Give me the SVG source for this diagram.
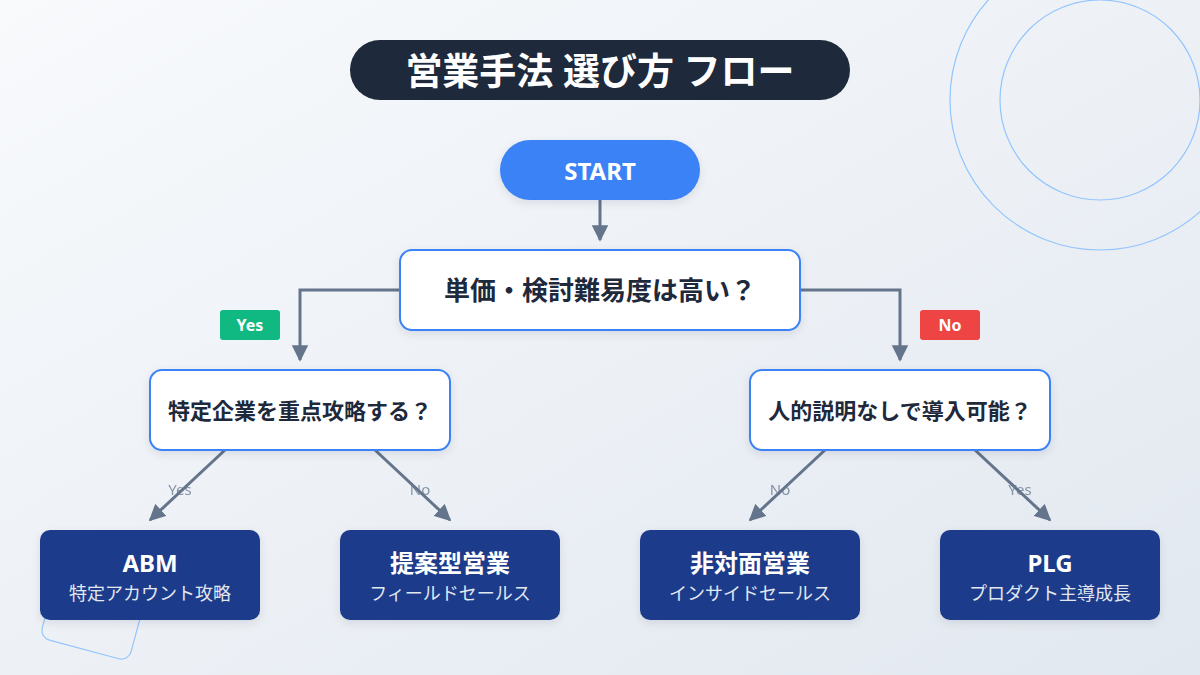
<svg xmlns="http://www.w3.org/2000/svg" width="1200" height="675" viewBox="0 0 1200 675">
<defs>
<linearGradient id="bg" x1="0" y1="0" x2="1" y2="1">
<stop offset="0" stop-color="#f8fafc"/>
<stop offset="1" stop-color="#e2e8f0"/>
</linearGradient>
<marker id="arr" viewBox="0 0 10 10" refX="9" refY="5" markerWidth="5.5" markerHeight="5.5" orient="auto" markerUnits="strokeWidth">
<path d="M0,0 L10,5 L0,10 Z" fill="#64748b"/>
</marker>
<filter id="sh" x="-20%" y="-20%" width="140%" height="150%">
<feDropShadow dx="0" dy="3" stdDeviation="4" flood-color="#0f172a" flood-opacity="0.10"/>
</filter>
</defs>
<style>
text{font-family:"Noto Sans","Noto Sans CJK JP",sans-serif;text-anchor:middle;dominant-baseline:central}
.dec{fill:#ffffff;stroke:#3b82f6;stroke-width:2;filter:url(#sh)}
.dect{fill:#1e293b;font-weight:700}
.leaf{fill:#1e3a8a;filter:url(#sh)}
.lt{fill:#ffffff;font-weight:700;font-size:24px}
.ls{fill:#e2e8f0;font-size:18px}
.conn{fill:none;stroke:#64748b;stroke-width:3;marker-end:url(#arr)}
.el{fill:#64748b;font-size:15px;opacity:0.75}
.deco{fill:none;stroke:#93c5fd;stroke-width:1.2}
</style>
<rect width="1200" height="675" fill="url(#bg)"/>
<g id="decoration">
<circle class="deco" cx="1100" cy="100" r="100"/>
<circle class="deco" cx="1100" cy="100" r="150"/>
<rect class="deco" x="50" y="559" width="92" height="92" rx="10" transform="rotate(15 96 605)"/>
</g>
<g id="title">
<rect x="350" y="40" width="500" height="60" rx="30" fill="#1e293b"/>
<text x="600" y="70" fill="#ffffff" font-size="37" font-weight="700">営業手法 選び方 フロー</text>
</g>
<g id="connectors">
<line class="conn" x1="600" y1="200" x2="600" y2="240"/>
<polyline class="conn" points="400,290 300,290 300,360"/>
<polyline class="conn" points="800,290 900,290 900,360"/>
<line class="conn" x1="225" y1="450" x2="150" y2="520"/>
<line class="conn" x1="375" y1="450" x2="450" y2="520"/>
<line class="conn" x1="825" y1="450" x2="750" y2="520"/>
<line class="conn" x1="975" y1="450" x2="1050" y2="520"/>
<g id="badge-yes">
<rect x="220" y="310" width="60" height="30" rx="3" fill="#10b981"/>
<text x="250" y="325" fill="#ffffff" font-size="16" font-weight="700">Yes</text>
</g>
<g id="badge-no">
<rect x="920" y="310" width="60" height="30" rx="3" fill="#ef4444"/>
<text x="950" y="325" fill="#ffffff" font-size="16" font-weight="700">No</text>
</g>
<text class="el" x="180" y="489">Yes</text>
<text class="el" x="420" y="489">No</text>
<text class="el" x="780" y="489">No</text>
<text class="el" x="1020" y="489">Yes</text>
</g>
<g id="start">
<rect x="500" y="140" width="200" height="60" rx="30" fill="#3b82f6" filter="url(#sh)"/>
<text x="600" y="170" fill="#ffffff" font-size="24" font-weight="700">START</text>
</g>
<g id="q1">
<rect class="dec" x="400" y="250" width="400" height="80" rx="12"/>
<text class="dect" x="600" y="290" font-size="26">単価・検討難易度は高い？</text>
</g>
<g id="q2">
<rect class="dec" x="150" y="370" width="300" height="80" rx="12"/>
<text class="dect" x="300" y="410" font-size="22">特定企業を重点攻略する？</text>
</g>
<g id="q3">
<rect class="dec" x="750" y="370" width="300" height="80" rx="12"/>
<text class="dect" x="900" y="410" font-size="22">人的説明なしで導入可能？</text>
</g>
<g id="abm">
<rect class="leaf" x="40" y="530" width="220" height="90" rx="10"/>
<text class="lt" x="150" y="562">ABM</text>
<text class="ls" x="150" y="593">特定アカウント攻略</text>
</g>
<g id="teian">
<rect class="leaf" x="340" y="530" width="220" height="90" rx="10"/>
<text class="lt" x="450" y="562">提案型営業</text>
<text class="ls" x="450" y="593">フィールドセールス</text>
</g>
<g id="hitaimen">
<rect class="leaf" x="640" y="530" width="220" height="90" rx="10"/>
<text class="lt" x="750" y="562">非対面営業</text>
<text class="ls" x="750" y="593">インサイドセールス</text>
</g>
<g id="plg">
<rect class="leaf" x="940" y="530" width="220" height="90" rx="10"/>
<text class="lt" x="1050" y="562">PLG</text>
<text class="ls" x="1050" y="593">プロダクト主導成長</text>
</g>
</svg>
